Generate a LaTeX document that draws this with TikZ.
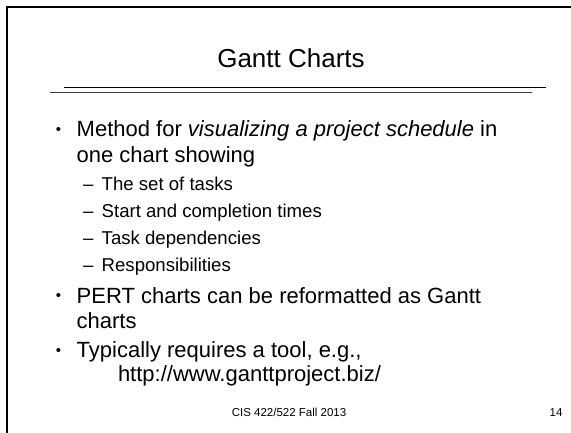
\documentclass[tikz,border=0pt]{standalone}
\usepackage{fontspec}
\setmainfont{Liberation Sans}
\begin{document}
\begin{tikzpicture}[x=1pt,y=-1pt,
  txt/.style={anchor=base west,inner sep=0pt,outer sep=0pt},
  mainfont/.style={font=\fontsize{22}{26}\selectfont},
  subfont/.style={font=\fontsize{18.6}{22}\selectfont},
  bul/.style={anchor=base,inner sep=0pt,font=\fontsize{15}{18}\selectfont},
  footfont/.style={font=\fontsize{11.5}{13}\selectfont}]
\useasboundingbox (0,0) rectangle (571,433);
\fill[white] (0,0) rectangle (571,433);
% frame
\draw[line width=2.3pt] (7.2,433) -- (7.2,7.2) -- (571,7.2);
% title
\node[anchor=base,inner sep=0pt,font=\fontsize{26}{30}\selectfont] (title) at (291,68) {Gantt Charts};
\draw[line width=1.1pt] (64,87.5) -- (546,87.5);
\draw[line width=1.6pt,black!75] (50,92.4) -- (532,92.4);
% bullet 1
\node[bul] (b1) at (58.5,135) {•};
\node[txt,mainfont] (t1) at (76.7,137) {Method for \textit{visualizing a project schedule} in};
\node[txt,mainfont] (t1b) at (76.7,162.3) {one chart showing};
\node[txt,subfont] (s1) at (83,190.7) {\makebox[18.7pt][l]{–}The set of tasks};
\node[txt,subfont] (s2) at (83,217.8) {\makebox[18.7pt][l]{–}Start and completion times};
\node[txt,subfont] (s3) at (83,244.6) {\makebox[18.7pt][l]{–}Task dependencies};
\node[txt,subfont] (s4) at (83,271.6) {\makebox[18.7pt][l]{–}Responsibilities};
% bullet 2
\node[bul] (b2) at (58.5,301) {•};
\node[txt,mainfont] (t2) at (76.7,303) {PERT charts can be reformatted as Gantt};
\node[txt,mainfont] (t2b) at (76.7,328.3) {charts};
% bullet 3
\node[bul] (b3) at (58.5,355.5) {•};
\node[txt,mainfont] (t3) at (76.7,357.5) {Typically requires a tool, e.g.,};
\node[txt,mainfont] (t3b) at (118,381) {http://www.ganttproject.biz/};
% footer
\node[anchor=base,inner sep=0pt,footfont] (foot) at (289,416) {CIS 422/522 Fall 2013};
\node[anchor=base,inner sep=0pt,footfont] (num) at (556,416) {14};
\end{tikzpicture}
\end{document}
